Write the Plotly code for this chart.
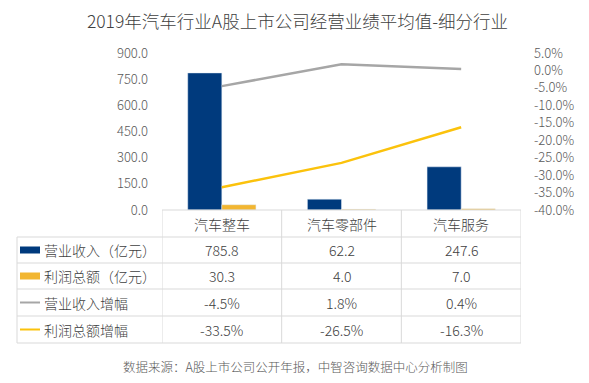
import plotly.graph_objects as go

categories = ["汽车整车", "汽车零部件", "汽车服务"]
revenue = [785.8, 62.2, 247.6]          # 营业收入（亿元）
profit = [30.3, 4.0, 7.0]               # 利润总额（亿元）
revenue_growth = [-4.5, 1.8, 0.4]       # 营业收入增幅 %
profit_growth = [-33.5, -26.5, -16.3]   # 利润总额增幅 %
row_labels = ["营业收入（亿元）", "利润总额（亿元）", "营业收入增幅", "利润总额增幅"]
left_ticks = [0, 150, 300, 450, 600, 750, 900]
left_tick_text = ["0.0", "150.0", "300.0", "450.0", "600.0", "750.0", "900.0"]
right_ticks = [5, 0, -5, -10, -15, -20, -25, -30, -35, -40]
right_tick_text = ["5.0%", "0.0%", "-5.0%", "-10.0%", "-15.0%", "-20.0%",
                   "-25.0%", "-30.0%", "-35.0%", "-40.0%"]

NAVY = "#003A7D"
GOLD_BAR = "#F2B631"
GOLD_LINE = "#FBC20C"
GRAY = "#A6A6A6"
GRID = "#D9D9D9"
TXT = "#404040"
FONT = "Noto Sans CJK SC"

W, H = 589, 383
L, R, T, B = 162, 521, 53, 210   # plot area in pixels

fig = go.Figure()
fig.add_trace(go.Bar(x=categories, y=revenue, marker_color=NAVY, name=row_labels[0]))
fig.add_trace(go.Bar(x=categories, y=profit, marker_color=GOLD_BAR, name=row_labels[1]))
fig.add_trace(go.Scatter(x=categories, y=revenue_growth, yaxis="y2", mode="lines",
                         line=dict(color=GRAY, width=2.5), name=row_labels[2]))
fig.add_trace(go.Scatter(x=categories, y=profit_growth, yaxis="y2", mode="lines",
                         line=dict(color=GOLD_LINE, width=2.5), name=row_labels[3]))


def py(p):
    return (B - p) / (B - T)


def px_(p):
    return (p - L) / (R - L)


shapes = []
annotations = []
line_style = dict(color=GRID, width=1)
row_edges = [237, 263, 289, 316, 343]
for yy in row_edges:
    shapes.append(dict(type="line", xref="paper", yref="paper", x0=px_(17), x1=1,
                       y0=py(yy), y1=py(yy), line=line_style))
shapes.append(dict(type="line", xref="paper", yref="paper", x0=0, x1=1,
                   y0=0, y1=0, line=line_style))
shapes.append(dict(type="line", xref="paper", yref="paper", x0=px_(17), x1=px_(17),
                   y0=py(237), y1=py(343), line=line_style))
for xv in [-0.5, 0.5, 1.5, 2.5]:
    shapes.append(dict(type="line", xref="x", yref="paper", x0=xv, x1=xv,
                       y0=0, y1=py(343), line=line_style))

tfont = dict(family=FONT, size=14, color=TXT, weight=300)
header_c = 223.5
row_c = [(row_edges[i] + row_edges[i + 1]) / 2 for i in range(4)]
for c in categories:
    annotations.append(dict(x=c, xref="x", y=py(header_c), yref="paper", text=c,
                            showarrow=False, font=tfont, xanchor="center", yanchor="middle"))
rows = [
    [f"{v:.1f}" for v in revenue],
    [f"{v:.1f}" for v in profit],
    [f"{v:.1f}%" for v in revenue_growth],
    [f"{v:.1f}%" for v in profit_growth],
]
for ri, vals in enumerate(rows):
    for c, t in zip(categories, vals):
        annotations.append(dict(x=c, xref="x", y=py(row_c[ri]), yref="paper", text=t,
                                showarrow=False, font=tfont, xanchor="center", yanchor="middle"))
    annotations.append(dict(x=px_(42), xref="paper", y=py(row_c[ri]), yref="paper",
                            text=row_labels[ri], showarrow=False, font=tfont,
                            xanchor="left", yanchor="middle"))

shapes.append(dict(type="rect", xref="paper", yref="paper", x0=px_(20), x1=px_(40),
                   y0=py(row_c[0] - 3.5), y1=py(row_c[0] + 3.5), fillcolor=NAVY, line_width=0))
shapes.append(dict(type="rect", xref="paper", yref="paper", x0=px_(20), x1=px_(40),
                   y0=py(row_c[1] - 3.5), y1=py(row_c[1] + 3.5), fillcolor=GOLD_BAR, line_width=0))
shapes.append(dict(type="line", xref="paper", yref="paper", x0=px_(20), x1=px_(40),
                   y0=py(row_c[2]), y1=py(row_c[2]), line=dict(color=GRAY, width=2)))
shapes.append(dict(type="line", xref="paper", yref="paper", x0=px_(20), x1=px_(40),
                   y0=py(row_c[3]), y1=py(row_c[3]), line=dict(color=GOLD_LINE, width=2)))

annotations.append(dict(x=px_(295), xref="paper", y=py(366), yref="paper",
                        text="数据来源：A股上市公司公开年报，中智咨询数据中心分析制图",
                        showarrow=False, font=dict(family=FONT, size=12.5, color="#595959", weight=300),
                        xanchor="center", yanchor="middle"))

tickfont = dict(family=FONT, size=13, color="#595959", weight=300)
fig.update_layout(
    width=W, height=H,
    margin=dict(l=L, r=W - R, t=T, b=H - B, autoexpand=False),
    paper_bgcolor="white", plot_bgcolor="white",
    showlegend=False,
    barmode="group", bargap=0.43, bargroupgap=0,
    title=dict(text="2019年汽车行业A股上市公司经营业绩平均值-细分行业",
               x=0.505, xanchor="center", y=1 - 22 / H, yanchor="middle",
               font=dict(family=FONT, size=17.5, color=TXT, weight=300)),
    font=dict(family=FONT, color="#595959"),
    xaxis=dict(showticklabels=False, showgrid=False, showline=False, zeroline=False,
               range=[-0.5, 2.5], automargin=False),
    yaxis=dict(range=[0, 900], tickvals=left_ticks, ticktext=left_tick_text,
               showgrid=False, zeroline=False, showline=False,
               tickfont=tickfont, ticklabelstandoff=13, automargin=False),
    yaxis2=dict(range=[-40, 5], overlaying="y", side="right", tickvals=right_ticks,
                ticktext=right_tick_text, showgrid=False, zeroline=False,
                showline=False, tickfont=tickfont, ticklabelstandoff=12, automargin=False),
    shapes=shapes, annotations=annotations,
)

fig.write_html("out.html", config={"displayModeBar": False},
               post_script="document.body.style.margin='0';")
